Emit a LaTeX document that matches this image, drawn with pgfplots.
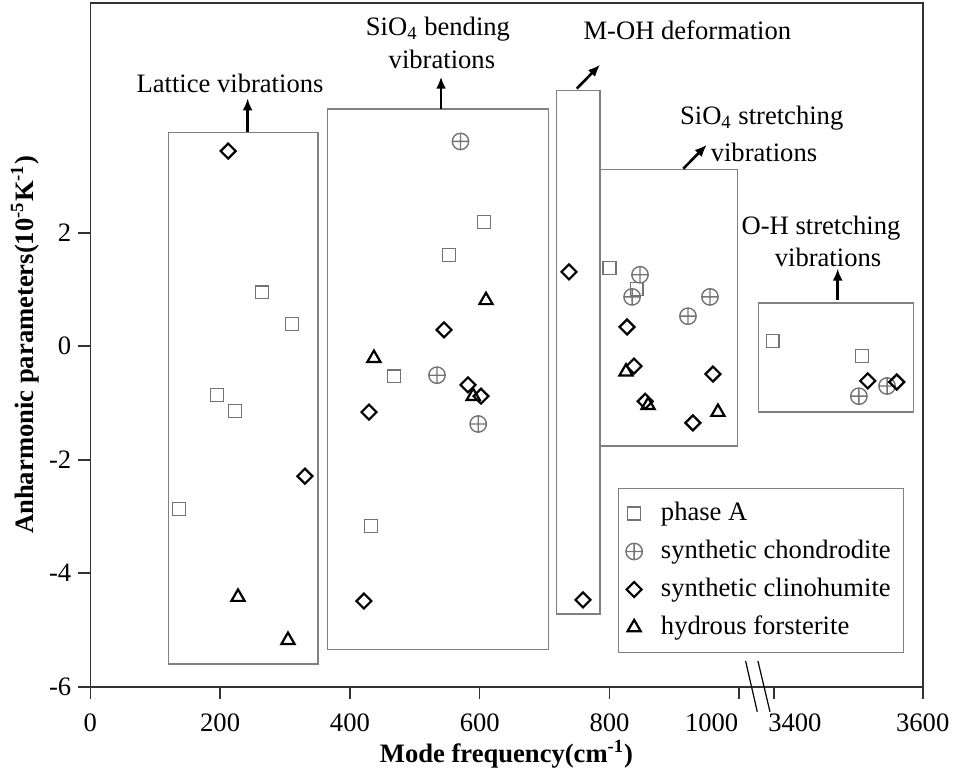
\documentclass[border=0pt]{standalone}
\usepackage{fontspec}
\setmainfont{Liberation Serif}
\usepackage{pgfplots}
\pgfplotsset{compat=1.18}
\usetikzlibrary{arrows.meta}
\newcommand{\fs}{\fontsize{13.35}{16}\selectfont}
\begin{document}
\begin{tikzpicture}[font=\fs]
\path[use as bounding box] (-45.15bp,-41.65bp) rectangle (431.35bp,343.35bp);
\begin{axis}[
  scale only axis,
  width=416.2bp, height=341.85bp,
  at={(0,0)}, anchor=south west,
  xmin=0, xmax=1282.6, ymin=-6, ymax=6.05,
  x coord trafo/.code={\pgfmathparse{ifthenelse(#1>2000,1053.9+(#1-3400)*1.1433,#1)}},
  clip=false,
  axis line style={black!80, line width=0.8bp},
  tick style={black!80, line width=0.8bp},
  major tick length=6bp,
  tick align=outside,
  xtick pos=bottom, ytick pos=left,
  xtick={0,200,400,600,800,1000,1053.9,1282.6},
  xticklabels={0,200,400,600,800,\llap{1000\hspace{0.5bp}},\rlap{\hspace{-3bp}3400},3600},
  ytick={-6,-4,-2,0,2},
  yticklabels={-6,-4,-2,0,2},
  tick label style={font=\fs},
  xticklabel style={inner ysep=1bp, yshift=-6.2bp},
  xlabel={Mode frequency(cm\textsuperscript{-1})},
  ylabel={Anharmonic parameters(10\textsuperscript{-5}K\textsuperscript{-1})},
  label style={font=\fs\bfseries},
  xlabel style={at={(axis description cs:0.5,-0.0990)}, anchor=center, inner sep=0.5bp},
  ylabel style={at={(axis description cs:-0.0785,0.5)}, anchor=center},
  legend style={at={(0.9779,0.0490)}, anchor=south east, draw=black!50, line width=0.5bp,
    inner xsep=0.7bp, inner ysep=3.1bp, font=\fs,
    nodes={inner xsep=5.85bp, inner ysep=3.25bp, text height=9.5bp, text depth=3bp}, row sep=0pt},
  legend cell align=left,
  legend image code/.code={\path (-6.8bp,0bp) (7bp,0bp); \draw[#1] plot coordinates {(0bp,0bp)};},
]
% phase A
\addplot[only marks, mark=square, mark size=3.2bp, draw=black!55, line width=0.7bp] coordinates {
(136.7,-2.87) (195.2,-0.86) (222.9,-1.14) (264.6,0.95) (310.8,0.39) (432.8,-3.17) (468,-0.53)
(552.7,1.61) (606.6,2.19) (800,1.38) (842,1.01) (3398,0.09) (3518,-0.17)};
\addlegendentry{phase A}
% synthetic chondrodite
\addplot[only marks, mark=oplus, mark size=4.1bp, draw=black!55, line width=0.7bp] coordinates {
(534.2,-0.51) (570.4,3.61) (597.7,-1.37) (834.8,0.87) (847,1.26) (920.9,0.53) (954.8,0.87)
(3514,-0.88) (3552,-0.70)};
\addlegendentry{synthetic chondrodite}
% synthetic clinohumite
\addplot[only marks, mark=square, mark options={rotate=45}, mark size=2.65bp, draw=black, line width=1.1bp] coordinates {
(212.5,3.44) (330.8,-2.29) (421.6,-4.49) (429.4,-1.16) (545,0.29) (582,-0.68) (602,-0.88)
(737.6,1.31) (759.2,-4.47) (827,0.34) (837.8,-0.35) (855,-0.97) (928.5,-1.35) (959.3,-0.49)
(3526,-0.61) (3565,-0.63)};
\addlegendentry{synthetic clinohumite}
% hydrous forsterite
\addplot[only marks, mark=triangle, mark size=3.8bp, draw=black, line width=1.1bp] coordinates {
(227.6,-4.42) (304.6,-5.18) (437,-0.21) (590,-0.88) (609.7,0.81) (825.4,-0.45) (859.4,-1.04)
(967.1,-1.16)};
\addlegendentry{hydrous forsterite}

% region boxes
\draw[black!50, line width=0.7bp] (axis cs:120.6,3.77) rectangle (axis cs:350.8,-5.60);
\draw[black!50, line width=0.7bp] (axis cs:365.2,4.18) rectangle (axis cs:705.7,-5.34);
\draw[black!50, line width=0.7bp] (axis cs:718.6,4.51) rectangle (axis cs:785.4,-4.72);
\draw[black!50, line width=0.7bp] (axis cs:784.3,3.12) rectangle (axis cs:997,-1.76);
\draw[black!50, line width=0.7bp] (axis cs:1029.3,0.76) rectangle (axis cs:1268.1,-1.16);
% arrows
\begin{scope}[line width=1.3bp, -{Latex[length=6bp,width=5bp]}]
\draw (axis cs:242.4,3.77) -- (axis cs:242.4,4.37);
\draw (axis cs:540.4,4.18) -- (axis cs:540.4,4.75);
\draw (axis cs:749.5,4.54) -- (axis cs:785.4,4.96);
\draw (axis cs:913.7,3.13) -- (axis cs:949.8,3.55);
\draw (axis cs:1151.6,0.81) -- (axis cs:1151.6,1.37);
\end{scope}
% annotation texts
\node at (axis cs:215.3,4.64) {Lattice vibrations};
\node at (axis cs:535.7,5.59) {SiO\textsubscript{4} bending};
\node at (axis cs:541.8,5.06) {vibrations};
\node at (axis cs:920,5.57) {M-OH deformation};
\node at (axis cs:1034.5,4.02) {SiO\textsubscript{4} stretching};
\node at (axis cs:1038,3.42) {vibrations};
\node at (axis cs:1126,2.08) {O-H stretching};
\node at (axis cs:1136.7,1.57) {vibrations};
% axis break marks
\draw[black, line width=0.6bp] (axis cs:1009.7,-5.547) -- (axis cs:1027.7,-6.441);
\draw[black, line width=0.6bp] (axis cs:1028.7,-5.547) -- (axis cs:1047.3,-6.441);
\end{axis}
\end{tikzpicture}
\end{document}
